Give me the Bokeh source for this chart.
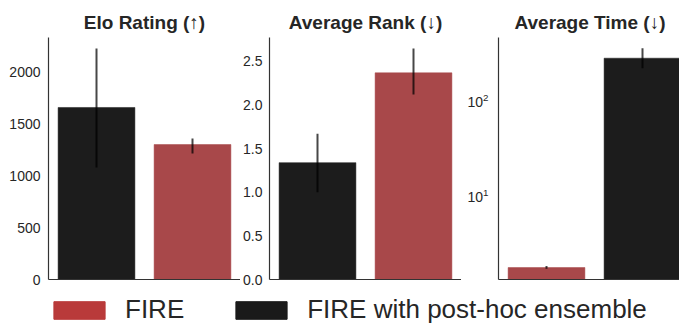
from bokeh.plotting import figure
from bokeh.layouts import column, row
from bokeh.models import (Range1d, FixedTicker, PrintfTickFormatter, LogTickFormatter,
                          ColumnDataSource, Legend, LegendItem)
from bokeh.embed import file_html
from bokeh.resources import INLINE

# ---------------- data ----------------
FIRE = "FIRE"
ENS = "FIRE with post-hoc ensemble"

elo_methods = [ENS, FIRE]
elo_vals = [1662, 1304]
elo_lo = [1082, 1217]
elo_hi = [2232, 1362]
elo_ticks = [0, 500, 1000, 1500, 2000]

rank_methods = [ENS, FIRE]
rank_vals = [1.34, 2.37]
rank_lo = [1.00, 2.12]
rank_hi = [1.67, 2.65]
rank_ticks = [0.0, 0.5, 1.0, 1.5, 2.0, 2.5]

time_methods = [FIRE, ENS]
time_vals = [1.75, 277]
time_lo = [1.70, 217]
time_hi = [1.82, 352]
time_ticks = [10, 100]

titles = ["Elo Rating (\u2191)", "Average Rank (\u2193)", "Average Time (\u2193)"]
legend_methods = [FIRE, ENS]

# ---------------- style ----------------
BAR_COLOR = {FIRE: "#a8484a", ENS: "#1c1c1c"}
LEG_COLOR = {FIRE: "#b93a3a", ENS: "#1a1a1a"}
FONT = "Liberation Sans"
TXT = "#262626"
AXIS = "#333333"

FRAME_H = 242
TOP = 37
BOTTOM = 8


def panel(title, methods, vals, lo, hi, yr, ticks, width, left, xmax=2.0,
          log=False, title_left_offset=None):
    p = figure(width=width, height=TOP + FRAME_H + BOTTOM,
               output_backend="svg", toolbar_location=None,
               x_range=Range1d(0, xmax), y_range=Range1d(*yr),
               y_axis_type="log" if log else "linear",
               min_border_left=left, min_border_right=0,
               min_border_top=TOP, min_border_bottom=BOTTOM)
    xs = [i + 0.5 for i in range(len(methods))]
    bottom_val = yr[0] if log else 0
    src = ColumnDataSource(dict(x=xs, top=vals, lo=lo, hi=hi,
                                bottom=[bottom_val] * len(xs),
                                color=[BAR_COLOR[m] for m in methods]))
    p.vbar(x="x", top="top", bottom="bottom", width=0.8, source=src,
           fill_color="color", line_color="color", line_width=0.5)
    p.segment(x0="x", y0="lo", x1="x", y1="hi", source=src,
              line_color="#000000", line_alpha=0.72, line_width=2)

    p.title.text = title
    p.title.text_font = FONT
    p.title.text_font_size = "19px"
    p.title.text_font_style = "bold"
    p.title.text_color = TXT
    if title_left_offset is None:
        p.title.align = "center"
    else:
        p.title.align = "left"
        p.title.offset = title_left_offset

    p.outline_line_color = None
    p.grid.visible = False
    p.background_fill_color = "white"
    p.border_fill_color = "white"

    ya = p.yaxis[0]
    ya.ticker = FixedTicker(ticks=ticks)
    ya.major_tick_line_color = None
    ya.minor_tick_line_color = None
    ya.major_tick_out = 0
    ya.major_tick_in = 0
    ya.major_label_text_font = FONT
    ya.major_label_text_font_size = "14px"
    ya.major_label_text_color = TXT
    ya.axis_line_color = AXIS
    ya.axis_line_width = 1.2
    ya.major_label_standoff = 8

    xa = p.xaxis[0]
    xa.ticker = FixedTicker(ticks=[])
    xa.major_tick_line_color = None
    xa.minor_tick_line_color = None
    xa.major_tick_out = 0
    xa.major_tick_in = 0
    xa.major_label_standoff = 0
    xa.major_label_text_font_size = "0px"
    xa.axis_line_color = AXIS
    xa.axis_line_width = 1.2
    return p, ya


p1, a1 = panel(titles[0], elo_methods, elo_vals, elo_lo, elo_hi,
               (0, 2338), elo_ticks, width=240, left=48)
p2, a2 = panel(titles[1], rank_methods, rank_vals, rank_lo, rank_hi,
               (0, 2.775), rank_ticks, width=221, left=29)
a2.formatter = PrintfTickFormatter(format="%.1f")
a2.major_label_standoff = 7
p3, a3 = panel(titles[2], time_methods, time_vals, time_lo, time_hi,
               (1.31, 457), time_ticks, width=218, left=37, xmax=181 / 96,
               log=True, title_left_offset=16)
a3.formatter = LogTickFormatter()
a3.major_label_standoff = 10

# ---------------- legend strip ----------------
leg_fig = figure(width=679, height=38, output_backend="svg", toolbar_location=None,
                 x_range=Range1d(0, 1), y_range=Range1d(0, 1),
                 x_axis_type=None, y_axis_type=None,
                 min_border_left=0, min_border_right=0,
                 min_border_top=0, min_border_bottom=0)
leg_fig.outline_line_color = None
leg_fig.grid.visible = False
items = []
for m in legend_methods:
    # off-range dummy bar: only its legend swatch is shown
    r = leg_fig.vbar(x=[-5], top=[-5], bottom=[-6], width=0.1,
                     fill_color=LEG_COLOR[m], line_color=LEG_COLOR[m])
    items.append(LegendItem(label=m, renderers=[r]))
legend = Legend(items=items, orientation="horizontal", location=(47, 0),
                glyph_width=64, glyph_height=22, label_standoff=14, spacing=45,
                label_text_font=FONT, label_text_font_size="26px",
                label_text_line_height=1.0,
                label_text_color=TXT, padding=0, margin=0,
                border_line_color=None, background_fill_alpha=0)
leg_fig.add_layout(legend, "center")

layout = column(row(p1, p2, p3, spacing=0), leg_fig, spacing=0)

open("out.html", "w").write(file_html(layout, INLINE))
